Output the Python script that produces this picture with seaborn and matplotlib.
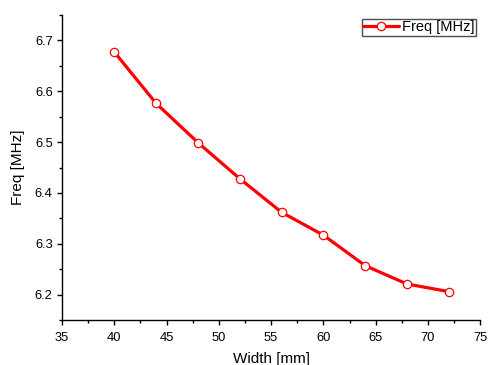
import pandas as pd
import seaborn as sns
import matplotlib.pyplot as plt
from matplotlib.ticker import MultipleLocator

# data
width_mm = [40, 44, 48, 52, 56, 60, 64, 68, 72]
freq_mhz = [6.677, 6.576, 6.499, 6.428, 6.362, 6.317, 6.257, 6.221, 6.206]

sns.set_style("ticks")
plt.rcParams["font.family"] = ["Liberation Sans", "DejaVu Sans"]
plt.rcParams["text.color"] = "black"
plt.rcParams["axes.labelcolor"] = "black"
plt.rcParams["xtick.color"] = "black"
plt.rcParams["ytick.color"] = "black"
tick_size = 9.3
label_size = 11

df = pd.DataFrame({"Width [mm]": width_mm, "Freq [MHz]": freq_mhz})

fig = plt.figure(figsize=(4.89, 3.65), dpi=100)
ax = fig.add_axes([0.127, 0.123, 0.855, 0.836])

sns.lineplot(
    data=df,
    x="Width [mm]",
    y="Freq [MHz]",
    color="red",
    linewidth=2.3,
    marker="o",
    markersize=6,
    markerfacecolor="white",
    markeredgecolor="red",
    markeredgewidth=0.9,
    label="Freq [MHz]",
    ax=ax,
)

ax.set_xlim(35, 75)
ax.set_ylim(6.15, 6.75)
ax.xaxis.set_major_locator(MultipleLocator(5))
ax.xaxis.set_minor_locator(MultipleLocator(2.5))
ax.yaxis.set_major_locator(MultipleLocator(0.1))
ax.yaxis.set_minor_locator(MultipleLocator(0.05))
ax.tick_params(which="major", length=3.3, width=1, labelsize=tick_size, color="black")
ax.tick_params(which="minor", length=2.2, width=1, color="black")
ax.tick_params(axis="x", which="major", pad=5)
ax.tick_params(axis="y", which="major", pad=3.5)
ax.set_xlabel("Width [mm]", fontsize=label_size, labelpad=6)
ax.set_ylabel("Freq [MHz]", fontsize=label_size, labelpad=7)
for side in ["left", "bottom"]:
    ax.spines[side].set_color("black")
    ax.spines[side].set_linewidth(1)
sns.despine(ax=ax)

leg = ax.legend(
    loc="upper right",
    bbox_to_anchor=(0.99, 0.987),
    fontsize=10.5,
    frameon=True,
    fancybox=False,
    handlelength=2.45,
    handletextpad=0.2,
    borderpad=0.1,
    borderaxespad=0,
)
leg.get_frame().set_edgecolor("#222222")
leg.get_frame().set_linewidth(1)

fig.savefig("out.png", dpi=100)
